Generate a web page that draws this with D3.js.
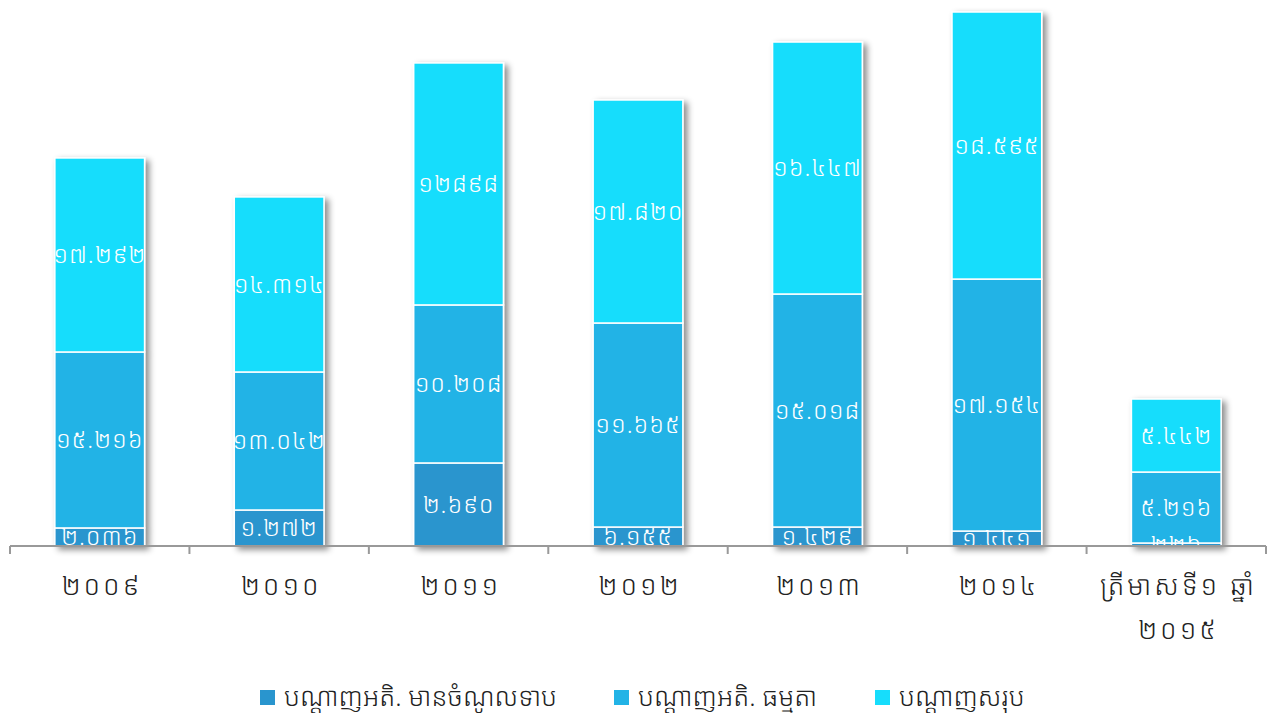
<!DOCTYPE html>
<html>
<head>
<meta charset="utf-8">
<script src="https://cdnjs.cloudflare.com/ajax/libs/d3/7.8.5/d3.min.js"></script>
<style>
    body { margin: 0; background: #fff; }
    text { font-family: "Khmer OS", "Khmer OS System", "Noto Sans Khmer", "Noto Serif Khmer", "Khmer", sans-serif; font-weight: 300; }
</style>
</head>
<body>
<div id="chart"></div>
<script>
// categories (years)
var categories = ["២០០៩", "២០១០", "២០១១", "២០១២", "២០១៣", "២០១៤", "ត្រីមាសទី១ ឆ្នាំ|២០១៥"];

// series names
var seriesNames = ["បណ្ដាញអតិ. មានចំណូលទាប", "បណ្ដាញអតិ. ធម្មតា", "បណ្ដាញសរុប"];

// bar heights (thousands)
var lowIncome = [1.57, 3.13, 7.22, 1.65, 1.65, 1.30, 0.26];
var normal = [15.30, 12.00, 13.74, 17.74, 20.26, 21.91, 6.17];
var total = [16.87, 15.22, 21.04, 19.39, 21.91, 23.22, 6.35];

// the data labels as printed on the bars
var lowIncomeLabels = ["២.០៣៦", "១.២៧២", "២.៦៩០", "៦.១៥៥", "១.៤២៩", "១.៤៤១", "២២៦"];
var normalLabels = ["១៥.២១៦", "១៣.០៤២", "១០.២០៨", "១១.៦៦៥", "១៥.០១៨", "១៧.១៥៤", "៥.២១៦"];
var totalLabels = ["១៧.២៩២", "១៤.៣១៤", "១២៨៩៨", "១៧.៨២០", "១៦.៤៤៧", "១៨.៥៩៥", "៥.៤៤២"];

var colors = ["#2995ce", "#22b3e6", "#16ddfc"];

var width = 1270,
    height = 713;
var margin = { left: 10, right: 4, top: 2, bottom: 167 };
var plotBottom = height - margin.bottom;

var svg = d3.select("#chart")
    .append("svg")
    .attr("width", width)
    .attr("height", height);

// drop shadow for the bars
var defs = svg.append("defs");
var shadow = defs.append("filter")
    .attr("id", "shadow")
    .attr("x", "-20%").attr("y", "-10%")
    .attr("width", "150%").attr("height", "130%");
shadow.append("feDropShadow")
    .attr("dx", 4).attr("dy", 3)
    .attr("stdDeviation", 3)
    .attr("flood-color", "#000")
    .attr("flood-opacity", 0.45);

defs.append("clipPath")
    .attr("id", "plotclip")
    .append("rect")
    .attr("x", 0).attr("y", 0)
    .attr("width", width).attr("height", plotBottom);

// rows for the stack
var rows = categories.map(function (c, i) {
    return { cat: c, s0: lowIncome[i], s1: normal[i], s2: total[i] };
});
var labelSets = [lowIncomeLabels, normalLabels, totalLabels];

var stack = d3.stack().keys(["s0", "s1", "s2"]);
var stacked = stack(rows);

// scales
var xScale = d3.scaleBand()
    .domain(categories)
    .range([margin.left, width - margin.right])
    .paddingInner(0.5)
    .paddingOuter(0.25);

var yScale = d3.scaleLinear()
    .domain([0, 47.3])
    .range([plotBottom, margin.top]);

// bars, one group per category so the shadow falls behind the whole stack
var barGroups = svg.append("g")
    .selectAll("g")
    .data(rows)
    .enter()
    .append("g")
    .attr("filter", "url(#shadow)");

barGroups.each(function (d, i) {
    var g = d3.select(this);
    stacked.forEach(function (layer, k) {
        var p = layer[i];
        g.append("rect")
            .attr("x", xScale(d.cat))
            .attr("y", yScale(p[1]))
            .attr("width", xScale.bandwidth())
            .attr("height", yScale(p[0]) - yScale(p[1]))
            .attr("fill", colors[k])
            .attr("stroke", "#fff")
            .attr("stroke-width", 1.5);
    });
});

// data labels
var labelGroup = svg.append("g").attr("clip-path", "url(#plotclip)");
stacked.forEach(function (layer, k) {
    layer.forEach(function (p, i) {
        labelGroup.append("text")
            .attr("x", xScale(categories[i]) + xScale.bandwidth() / 2)
            .attr("y", (yScale(p[0]) + yScale(p[1])) / 2)
            .attr("dy", "0.35em")
            .attr("text-anchor", "middle")
            .attr("fill", "#fff")
            .attr("font-size", 24)
            .attr("letter-spacing", 1)
            .text(labelSets[k][i]);
    });
});

// x axis
var xAxis = d3.axisBottom(xScale).tickSize(0).tickFormat("");
var axisG = svg.append("g")
    .attr("class", "axis x")
    .attr("transform", "translate(0," + plotBottom + ")")
    .call(xAxis);
axisG.select(".domain").attr("stroke", "#999").attr("stroke-width", 2)
    .attr("d", "M" + margin.left + ",0H" + (width - margin.right));

// tick marks sit between the categories
var step = xScale.step();
var tickXs = d3.range(categories.length + 1).map(function (j) {
    return margin.left + j * step;
});
axisG.selectAll(".sep")
    .data(tickXs)
    .enter()
    .append("line")
    .attr("class", "sep")
    .attr("x1", function (d) { return d; })
    .attr("x2", function (d) { return d; })
    .attr("y1", 0)
    .attr("y2", 8)
    .attr("stroke", "#999")
    .attr("stroke-width", 2);

// category labels, the last one wraps to two lines
categories.forEach(function (c) {
    var lines = c.split("|");
    var t = svg.append("text")
        .attr("x", xScale(c) + xScale.bandwidth() / 2)
        .attr("y", plotBottom + 49)
        .attr("text-anchor", "middle")
        .attr("fill", "#222")
        .attr("font-size", 27)
        .attr("letter-spacing", 3);
    lines.forEach(function (l, j) {
        t.append("tspan")
            .attr("x", xScale(c) + xScale.bandwidth() / 2 + 2)
            .attr("dy", j === 0 ? 0 : 44)
            .text(l);
    });
});

// legend
var legendX = [260, 614, 875];
var legend = svg.append("g");
seriesNames.forEach(function (name, k) {
    legend.append("rect")
        .attr("x", legendX[k])
        .attr("y", 690)
        .attr("width", 15)
        .attr("height", 15)
        .attr("fill", colors[k]);
    legend.append("text")
        .attr("x", legendX[k] + 24)
        .attr("y", 706)
        .attr("fill", "#222")
        .attr("font-size", 26)
        .text(name);
});
</script>
</body>
</html>
